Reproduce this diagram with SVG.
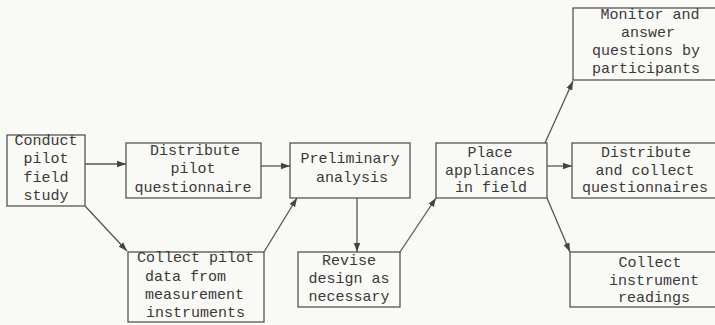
<svg xmlns="http://www.w3.org/2000/svg" width="715" height="325" viewBox="0 0 715 325">
<defs>
<style>
.box{fill:none;stroke:#555;stroke-width:1.3}
.t{font-family:"Liberation Mono","DejaVu Sans Mono",monospace;font-size:15px;fill:#3a3a3a;text-anchor:middle}
.l{text-anchor:start}
.c{fill:none;stroke:#555;stroke-width:1.3;marker-end:url(#ah)}
</style>
<marker id="ah" markerUnits="userSpaceOnUse" markerWidth="10" markerHeight="8" refX="9" refY="4" orient="auto">
<path d="M0,0.8 L9,4 L0,7.2 Z" fill="#444"/>
</marker>
</defs>
<rect width="715" height="325" fill="#f9f9f5"/>
<g id="connectors">
<line class="c" x1="85" y1="164" x2="126" y2="164"/>
<line class="c" x1="85" y1="206" x2="127" y2="251"/>
<line class="c" x1="261" y1="166" x2="290" y2="166"/>
<line class="c" x1="264" y1="252" x2="297" y2="198"/>
<line class="c" x1="357" y1="198" x2="357" y2="252"/>
<line class="c" x1="400" y1="252" x2="436" y2="198"/>
<line class="c" x1="547" y1="166" x2="572" y2="166"/>
<line class="c" x1="545" y1="143" x2="573" y2="81"/>
<line class="c" x1="547" y1="198" x2="570" y2="252"/>
</g>
<g id="conduct">
<rect class="box" x="7" y="135" width="78" height="71"/>
<text class="t" x="46" y="145">Conduct</text>
<text class="t" x="46" y="163">pilot</text>
<text class="t" x="46" y="182">field</text>
<text class="t" x="46" y="200">study</text>
</g>
<g id="distribute-pilot">
<rect class="box" x="126" y="143" width="135" height="55"/>
<text class="t" x="195" y="155">Distribute</text>
<text class="t" x="193" y="173">pilot</text>
<text class="t" x="193" y="192">questionnaire</text>
</g>
<g id="collect-pilot">
<rect class="box" x="128" y="252" width="136" height="70"/>
<text class="t l" x="137" y="262">Collect pilot</text>
<text class="t l" x="145" y="281">data from</text>
<text class="t l" x="145" y="299">measurement</text>
<text class="t l" x="146" y="317">instruments</text>
</g>
<g id="preliminary">
<rect class="box" x="290" y="143" width="120" height="55"/>
<text class="t" x="350" y="163">Preliminary</text>
<text class="t" x="352" y="182">analysis</text>
</g>
<g id="revise">
<rect class="box" x="298" y="252" width="102" height="55"/>
<text class="t" x="349" y="265">Revise</text>
<text class="t" x="349" y="283">design as</text>
<text class="t" x="349" y="301">necessary</text>
</g>
<g id="place">
<rect class="box" x="436" y="143" width="111" height="55"/>
<text class="t" x="490" y="157">Place</text>
<text class="t" x="490" y="175">appliances</text>
<text class="t" x="491" y="192">in field</text>
</g>
<g id="monitor">
<rect class="box" x="573" y="8" width="150" height="72"/>
<text class="t" x="650" y="19">Monitor and</text>
<text class="t" x="648" y="37">answer</text>
<text class="t" x="646" y="55">questions by</text>
<text class="t" x="646" y="73">participants</text>
</g>
<g id="distribute-collect">
<rect class="box" x="572" y="143" width="150" height="55"/>
<text class="t" x="646" y="157">Distribute</text>
<text class="t" x="645" y="175">and collect</text>
<text class="t" x="645" y="192">questionnaires</text>
</g>
<g id="collect-instrument">
<rect class="box" x="570" y="252" width="152" height="55"/>
<text class="t" x="650" y="267">Collect</text>
<text class="t" x="654" y="285">instrument</text>
<text class="t" x="654" y="302">readings</text>
</g>
</svg>
